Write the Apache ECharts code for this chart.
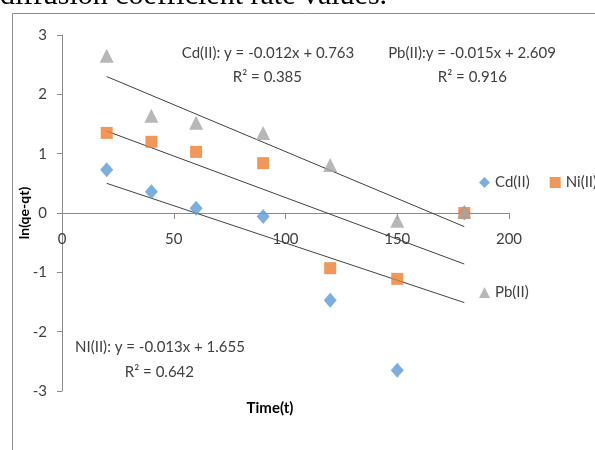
<!DOCTYPE html>
<html>
<head>
<meta charset="utf-8">
<script src="https://cdn.jsdelivr.net/npm/echarts@6/dist/echarts.min.js"></script>
<style>
  html, body { margin: 0; padding: 0; background: #fff; }
  #chart { width: 595px; height: 450px; }
</style>
</head>
<body>
<div id="chart"></div>
<script>
// time values (x)
const timeCd = [20, 40, 60, 90, 120, 150, 180];
const timeNi = [20, 40, 60, 90, 120, 150, 180];
const timePb = [20, 40, 60, 90, 120, 150, 180];
// ln(qe-qt) values
const cdValues = [0.73, 0.36, 0.08, -0.06, -1.47, -2.65, 0.0];
const niValues = [1.35, 1.20, 1.03, 0.84, -0.93, -1.11, 0.0];
const pbValues = [2.65, 1.64, 1.52, 1.35, 0.81, -0.13, 0.02];
// trend line ends (x, y)
const cdTrend = [[20, 0.50], [180, -1.51]];
const niTrend = [[20, 1.38], [180, -0.86]];
const pbTrend = [[20, 2.30], [180, -0.23]];
const xTicks = [0, 50, 100, 150, 200];
const yTicks = [-3, -2, -1, 0, 1, 2, 3];

const pair = (xs, ys) => xs.map((x, i) => [x, ys[i]]);

const chart = echarts.init(document.getElementById('chart'));
const font = 'Lato';
const textCol = '#404040';
const fs = 15;

const trend = (name, data) => ({
  name: name,
  type: 'line',
  data: data,
  showSymbol: false,
  silent: true,
  lineStyle: { color: '#404040', width: 1 },
  z: 1
});

// grid box: top 35, bottom 391 -> zero line sits at y = 213
const gridTop = 35, gridBottom = 391;
const zeroY = gridTop + (gridBottom - gridTop) * (yTicks[yTicks.length - 1] / (yTicks[yTicks.length - 1] - yTicks[0]));

const option = {
  animation: false,
  textStyle: { fontFamily: font },
  grid: { left: 62, right: 86, top: gridTop, bottom: 450 - gridBottom },
  xAxis: {
    type: 'value',
    min: xTicks[0], max: xTicks[xTicks.length - 1], interval: 50,
    offset: -(gridBottom - zeroY),
    axisLine: { onZero: false, lineStyle: { color: '#8c8c8c' } },
    axisTick: { show: true, length: 6, lineStyle: { color: '#8c8c8c' } },
    axisLabel: { color: textCol, fontSize: fs, margin: 19, fontFamily: font },
    splitLine: { show: false }
  },
  yAxis: {
    type: 'value',
    min: yTicks[0], max: yTicks[yTicks.length - 1], interval: 1,
    name: 'ln(qe-qt)',
    nameLocation: 'middle',
    nameGap: 31,
    nameMoveOverlap: false,
    nameTextStyle: { color: '#000', fontSize: 14, fontWeight: 'bold', fontFamily: font },
    axisLine: { show: true, lineStyle: { color: '#8c8c8c' } },
    axisTick: { show: true, length: 5, lineStyle: { color: '#8c8c8c' } },
    axisLabel: { color: textCol, fontSize: fs, margin: 15, fontFamily: font },
    splitLine: { show: false }
  },
  legend: [
    {
      data: ['Cd(II)', 'Ni(II)'],
      left: 474, top: 170, width: 200,
      itemWidth: 11, itemHeight: 11, itemGap: 20,
      textStyle: { color: textCol, fontSize: fs, fontFamily: font }
    },
    {
      data: ['Pb(II)'],
      left: 474, top: 280,
      itemWidth: 11, itemHeight: 11,
      textStyle: { color: textCol, fontSize: fs, fontFamily: font }
    }
  ],
  series: [
    trend('Cd fit', cdTrend),
    trend('Ni fit', niTrend),
    trend('Pb fit', pbTrend),
    {
      name: 'Cd(II)', type: 'scatter', symbol: 'diamond', symbolSize: [13, 15],
      itemStyle: { color: '#5B9BD5' }, data: pair(timeCd, cdValues), z: 2
    },
    {
      name: 'Ni(II)', type: 'scatter', symbol: 'rect', symbolSize: 12,
      itemStyle: { color: '#ED7D31' }, data: pair(timeNi, niValues), z: 3
    },
    {
      name: 'Pb(II)', type: 'scatter', symbol: 'triangle', symbolSize: 14,
      itemStyle: { color: '#A5A5A5' }, data: pair(timePb, pbValues), z: 4
    }
  ],
  graphic: [
    { type: 'text', x: 0, y: 11,
      style: { text: 'diffusion coefficient rate values.', verticalAlign: 'bottom', fontFamily: 'Liberation Serif', fontSize: 30, fill: '#000' } },
    { type: 'rect', shape: { x: 12.5, y: 13.5, width: 700, height: 600 },
      style: { fill: 'none', stroke: '#8c8c8c', lineWidth: 1 }, silent: true },
    { type: 'text', x: 268, y: 53,
      style: { text: 'Cd(II): y = -0.012x + 0.763', align: 'center', verticalAlign: 'middle', fontFamily: font, fontSize: fs, fill: textCol } },
    { type: 'text', x: 302, y: 77,
      style: { text: 'R² = 0.385', align: 'right', verticalAlign: 'middle', fontFamily: font, fontSize: fs, fill: textCol } },
    { type: 'text', x: 472, y: 53,
      style: { text: 'Pb(II):y = -0.015x + 2.609', align: 'center', verticalAlign: 'middle', fontFamily: font, fontSize: fs, fill: textCol } },
    { type: 'text', x: 507, y: 77,
      style: { text: 'R² = 0.916', align: 'right', verticalAlign: 'middle', fontFamily: font, fontSize: fs, fill: textCol } },
    { type: 'text', x: 160, y: 347,
      style: { text: 'NI(II): y = -0.013x + 1.655', align: 'center', verticalAlign: 'middle', fontFamily: font, fontSize: fs, fill: textCol } },
    { type: 'text', x: 194, y: 372,
      style: { text: 'R² = 0.642', align: 'right', verticalAlign: 'middle', fontFamily: font, fontSize: fs, fill: textCol } },
    { type: 'text', x: 270, y: 408,
      style: { text: 'Time(t)', align: 'center', verticalAlign: 'middle', fontFamily: font, fontSize: 15, fontWeight: 'bold', fill: '#000' } }
  ]
};
chart.setOption(option);
</script>
</body>
</html>
